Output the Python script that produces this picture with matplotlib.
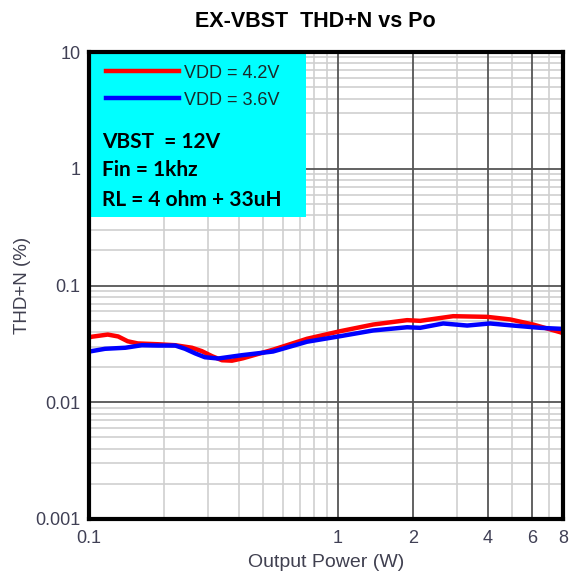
import numpy as np
import matplotlib.pyplot as plt
from matplotlib.patches import Rectangle
from matplotlib.ticker import FixedLocator, NullFormatter

# values (x: output power W, y: THD+N %)
po_42 = [0.100, 0.1025, 0.119, 0.131, 0.143, 0.157, 0.189, 0.222, 0.259, 0.284,
         0.312, 0.342, 0.375, 0.415, 0.548, 0.751, 1.019, 1.382, 1.892, 2.135,
         2.895, 3.965, 4.908, 6.07, 7.79, 8.0]
thd_42 = [0.0358, 0.0364, 0.0380, 0.0366, 0.0333, 0.0319, 0.0314, 0.0308, 0.0293, 0.0274,
          0.0248, 0.0229, 0.0227, 0.0238, 0.0282, 0.0350, 0.0406, 0.0463, 0.0505, 0.0498,
          0.0546, 0.0539, 0.0512, 0.0463, 0.0398, 0.0390]

po_36 = [0.100, 0.1025, 0.116, 0.140, 0.163, 0.189, 0.222, 0.243, 0.267, 0.292,
         0.330, 0.411, 0.548, 0.751, 1.019, 1.382, 1.892, 2.135, 2.641, 3.297,
         4.075, 5.045, 6.47, 7.79, 8.0]
thd_36 = [0.0272, 0.0274, 0.0287, 0.0293, 0.0308, 0.0306, 0.0306, 0.0287, 0.0262, 0.0243,
          0.0237, 0.0253, 0.0272, 0.0330, 0.0368, 0.0412, 0.0439, 0.0434, 0.0473, 0.0454,
          0.0473, 0.0454, 0.0434, 0.0426, 0.0424]

x_ticks = [0.1, 1, 2, 4, 6, 8]
x_labels = ['0.1', '1', '2', '4', '6', '8']
y_ticks = [0.001, 0.01, 0.1, 1, 10]
y_labels = ['0.001', '0.01', '0.1', '1', '10']
notes = ['VBST  = 12V', 'Fin = 1khz', 'RL = 4 ohm + 33uH']

plt.rcParams['font.family'] = ['Liberation Sans', 'DejaVu Sans']
fig = plt.figure(figsize=(5.74, 5.72), dpi=100)
ax = fig.add_axes([0.155, 0.0927, 0.826, 0.8163])

ax.set_xscale('log')
ax.set_yscale('log')
ax.set_xlim(0.1, 8)
ax.set_ylim(0.001, 10)

# grid: dark lines at labelled ticks, light lines for the rest
x_major = [1, 2, 4, 6]
x_minor = [0.2, 0.3, 0.4, 0.5, 0.6, 0.7, 0.8, 0.9, 3, 5, 7]
y_minor = [m * d for d in [0.001, 0.01, 0.1, 1] for m in range(2, 10)]
for v in x_minor:
    ax.axvline(v, color='#cfcfcf', lw=1.2, zorder=1)
for v in y_minor:
    ax.axhline(v, color='#cfcfcf', lw=1.2, zorder=1)
for v in x_major:
    ax.axvline(v, color='#555555', lw=1.3, zorder=2)
for v in [0.01, 0.1, 1]:
    ax.axhline(v, color='#555555', lw=1.3, zorder=2)

ax.plot(po_42, thd_42, color='#ff0000', lw=3.2, label='VDD = 4.2V', zorder=4,
        solid_joinstyle='round')
ax.plot(po_36, thd_36, color='#0000ff', lw=3.2, label='VDD = 3.6V', zorder=5,
        solid_joinstyle='round')

ax.xaxis.set_major_locator(FixedLocator(x_ticks))
ax.set_xticklabels(x_labels)
ax.yaxis.set_major_locator(FixedLocator(y_ticks))
ax.set_yticklabels(y_labels)
ax.xaxis.set_minor_formatter(NullFormatter())
ax.yaxis.set_minor_formatter(NullFormatter())
ax.tick_params(which='both', length=0, labelsize=13, labelcolor='#404055')
ax.tick_params(axis='x', pad=8)
ax.tick_params(axis='y', pad=6)

for s in ax.spines.values():
    s.set_linewidth(3)
    s.set_color('black')
    s.set_zorder(10)

# cyan info box
ax.add_patch(Rectangle((0, 0.647), 0.458, 0.353, transform=ax.transAxes,
                       facecolor='#00ffff', edgecolor='none', zorder=6))
leg = ax.legend(loc='upper left', bbox_to_anchor=(0.01, 1.0), frameon=False,
                fontsize=13, handlelength=4.0, handletextpad=0.3,
                labelspacing=0.55, borderaxespad=0.3)
leg.set_zorder(7)
for t in leg.get_texts():
    t.set_color('#1a2a2a')

for txt, yy in zip(notes, [0.807, 0.747, 0.683]):
    ax.text(0.027, yy, txt, transform=ax.transAxes, fontsize=15,
            fontweight='bold', family=['Lato', 'DejaVu Sans'],
            va='center', ha='left', zorder=8)

ax.set_xlabel('Output Power (W)', fontsize=14, color='#404050', labelpad=5)
ax.set_ylabel('THD+N (%)', fontsize=13.5, color='#404050', labelpad=3)
fig.text(0.55, 0.963, 'EX-VBST  THD+N vs Po', fontsize=15.5, fontweight='bold',
         ha='center', va='center')

fig.savefig('out.png', dpi=100)
